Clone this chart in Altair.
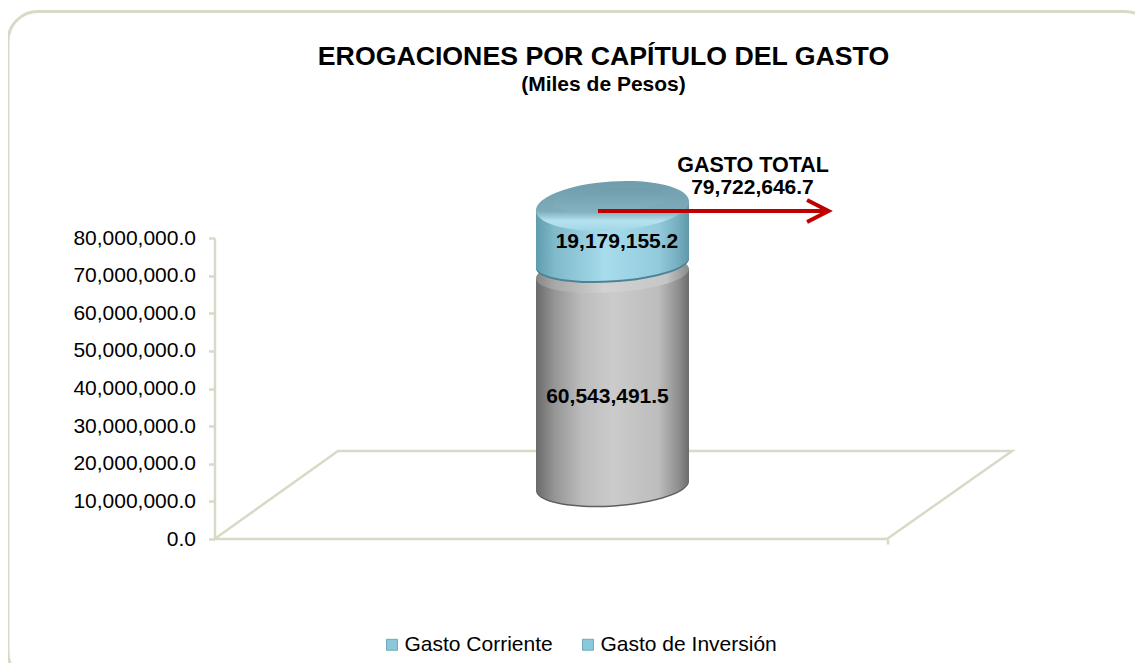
import altair as alt
import pandas as pd

# ---- values ----
series = ["Gasto Corriente", "Gasto de Inversión"]
values = [60543491.5, 19179155.2]
total = 79722646.7
y_ticks = [0, 10000000, 20000000, 30000000, 40000000, 50000000, 60000000, 70000000, 80000000]

# floor of the 3D box, in axis units
floor_x = [0, 123.5, 797.5, 672.5, 0]
floor_y = [0, 23400000, 23400000, 0, 0]

FONT = "Liberation Sans"
LINE = "#d8dac8"
PX = 1e7 / 37.625        # axis units per pixel
LIFT = 52 * PX           # the bars stand on the middle of the floor
K = 0.9367               # depth foreshortening of the bars
TILT = 5 * PX            # half the rise of a cylinder's ellipse
GAP = 11 * PX            # bevel between the two drums
XL, XR = 321.5, 474.5
XC = (XL + XR) / 2

def proj(v):
    return LIFT + K * v

base = proj(0)
mid = proj(values[0])
top = proj(total)

x_s = alt.Scale(domain=[0, 800], nice=False, zero=False)
y_s = alt.Scale(domain=[0, 80000000], nice=False, zero=False)
AX = alt.Axis(values=[672.5], labels=False, title=None, domain=False, grid=False,
              ticks=True, tickColor=LINE, tickWidth=2.5, tickSize=5)
AY = alt.Axis(values=y_ticks, format=",.1f", title=None, grid=False,
              domainColor=LINE, domainWidth=2.5, tickColor=LINE, tickWidth=2.5,
              tickSize=6, labelFont=FONT, labelFontSize=21, labelColor="#000000",
              labelPadding=13)
X = lambda f: alt.X(f, type="quantitative", scale=x_s, axis=AX)
Y = lambda f: alt.Y(f, type="quantitative", scale=y_s, axis=AY)

def gradient_h(stops):
    return alt.Gradient(gradient="linear", x1=0, x2=1, y1=0, y2=0,
                        stops=[alt.GradientStop(offset=o, color=c) for o, c in stops])

def gradient_v(stops):
    return alt.Gradient(gradient="linear", x1=0, x2=0, y1=0, y2=1,
                        stops=[alt.GradientStop(offset=o, color=c) for o, c in stops])

GRAY = [(0, "#6a6a6a"), (0.12, "#959595"), (0.3, "#bcbcbc"), (0.5, "#cbcbcb"), (0.8, "#bdbdbd"), (0.93, "#8f8f8f"), (1, "#6c6c6c")]
GRAY_TOP = [(0, "#868686"), (0.12, "#a8a8a8"), (0.45, "#d2d2d2"), (0.85, "#c6c6c6"), (1, "#8a8a8a")]
TEAL = [(0, "#5f9cad"), (0.12, "#7fb9ca"), (0.45, "#a6dcec"), (0.8, "#94cbdc"), (0.93, "#74aebf"), (1, "#5f98a9")]

def ell(b, tilt=0.0654):
    return f"M -1 {tilt} A 1 {b} -3.75 1 1 1 {-tilt} A 1 {b} -3.75 1 1 -1 {tilt} Z"

def ellipse(cy, fill, b=0.27, width=153, dx=0):
    d = pd.DataFrame({"x": [XC + dx], "y": [cy]})
    return alt.Chart(d).mark_point(filled=True, fill=fill, opacity=1, strokeWidth=0,
                                   shape=ell(b), size=width ** 2).encode(x=X("x"), y=Y("y"))

def side(y0, y1, fill):
    d = pd.DataFrame({"x": [XL, XR], "y": [y1 - TILT, y1 + TILT], "y2": [y0 - TILT, y0 + TILT]})
    return alt.Chart(d).mark_area(fill=fill, opacity=1).encode(
        x=X("x"), y=Y("y"), y2="y2")

# frame: runs off the right and bottom edges of the picture
frame = alt.Chart(pd.DataFrame({"a": [0]})).mark_rect(
    fill="transparent", stroke=LINE, strokeWidth=3, cornerRadius=30
).encode(x=alt.value(-206.5), x2=alt.value(940.5), y=alt.value(-226.5), y2=alt.value(444))

# floor with the axes
floor_df = pd.DataFrame({"x": floor_x, "y": floor_y, "o": range(len(floor_x))})
floor = alt.Chart(floor_df).mark_line(color=LINE, strokeWidth=2.5, clip=False).encode(
    x=X("x"), y=Y("y"), order="o",
)

# stacked segments: carry the legend, shaded over below
seg = pd.DataFrame({
    "serie": series,
    "x": [XC - 60, XC - 60], "x2": [XC + 60, XC + 60],
    "y": [proj(0), proj(values[0]) + GAP],
    "y2": [proj(values[0]), proj(total)],
})
bars = alt.Chart(seg).mark_rect().encode(
    x=X("x"), x2="x2", y=Y("y"), y2="y2",
    color=alt.Color("serie:N",
                    scale=alt.Scale(domain=series, range=["#8cc8dc", "#8cc8dc"]),
                    legend=alt.Legend(title=None, orient="none", direction="horizontal",
                                      legendX=167, legendY=396, symbolType="square", symbolSize=120,
                                      symbolStrokeColor="#6fa9bb", symbolStrokeWidth=1,
                                      labelFont=FONT, labelFontSize=21, labelColor="#000000",
                                      labelLimit=300, columnPadding=24, labelOffset=2)),
)

layers = [
    frame, floor, bars,
    ellipse(base + 1.0 * PX, "#5e5e5e"),
    ellipse(base + 2.5 * PX, gradient_h(GRAY)),
    side(base, mid, gradient_h(GRAY)),
    ellipse(mid, gradient_h(GRAY_TOP), b=0.245),
    ellipse(mid + GAP - 1 * PX, "#4f8394", b=0.245),
    ellipse(mid + GAP + 1 * PX, gradient_h(TEAL), b=0.245),
    side(mid + GAP + 1 * PX, top, gradient_h(TEAL)),
    ellipse(top, gradient_v([(0, "#6f9dac"), (0.6, "#7dabb9"), (0.8, "#b6e3ef"), (1, "#a0d6e6")]), b=0.32),
    ellipse(top + 6 * PX, gradient_v([(0, "#6f9dac"), (1, "#85b2c0")]), b=0.2, width=120),
]

# arrow
arrow_y = top - 5 * PX
arrow = alt.Chart(pd.DataFrame({"x": [383.5, 614], "y": [arrow_y, arrow_y]})).mark_line(
    color="#c00000", strokeWidth=4, clip=False).encode(x=X("x"), y=Y("y"))
head = alt.Chart(pd.DataFrame({"x": [603], "y": [arrow_y]})).mark_point(
    shape="M -0.95 -1 L 1 0 L -0.95 1", filled=False, stroke="#c00000", strokeWidth=4,
    opacity=1, size=484, strokeJoin="miter").encode(x=X("x"), y=Y("y"))
layers += [arrow, head]

# labels
def label(txt, x, y, dy=0, size=21):
    d = pd.DataFrame({"t": [txt], "x": [x], "y": [y]})
    return alt.Chart(d).mark_text(font=FONT, fontWeight="bold", fontSize=size, color="#000000",
                                  dy=dy).encode(x=X("x"), y=Y("y"), text="t:N")

layers += [
    label(f"{values[1]:,.1f}", XC + 4.5, (proj(values[0]) + GAP + top) / 2, dy=8),
    label(f"{values[0]:,.1f}", XC - 5, (base + proj(values[0])) / 2, dy=17),
    label("GASTO TOTAL", 538.5, top + 42 * PX, dy=2, size=21.5),
    label(f"{total:,.1f}", 538, top + 19 * PX, dy=1),
]

chart = alt.layer(*layers).properties(
    width=800, height=301,
    padding={"left": 206.5, "top": 230, "right": 120.5, "bottom": 124},
    autosize=alt.AutoSizeParams(type="none"),
    title=alt.TitleParams(text="EROGACIONES POR CAPÍTULO DEL GASTO",
                          subtitle="(Miles de Pesos)", font=FONT, fontSize=26.7, fontWeight="bold",
                          subtitleFont=FONT, subtitleFontSize=21, subtitleFontWeight="bold",
                          subtitleColor="#000000", color="#000000", frame="group",
                          anchor="middle", dx=-11, offset=-85, subtitlePadding=3),
).configure_view(stroke=None)

chart.save("out.html", embed_options={"renderer": "svg", "actions": False})
